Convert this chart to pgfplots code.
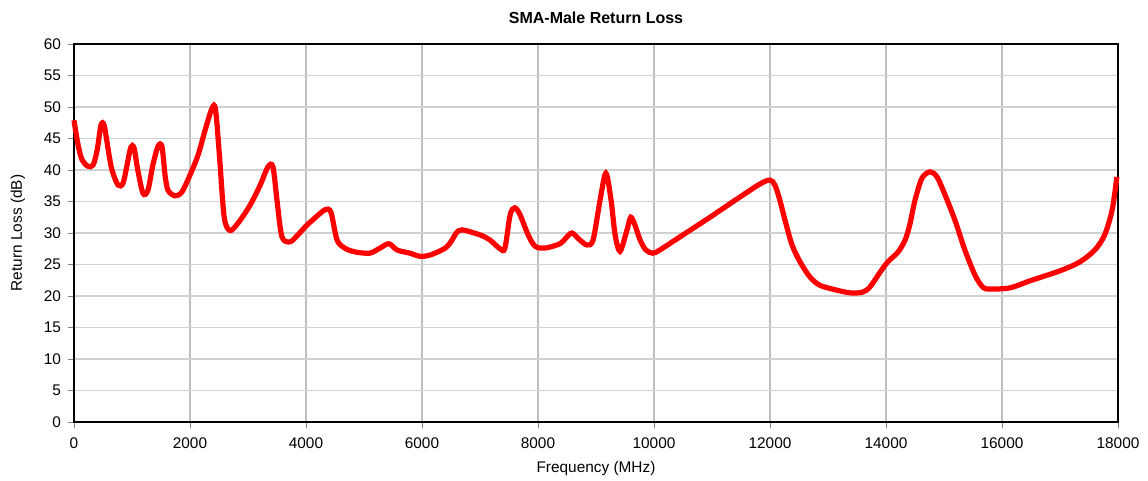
\documentclass[border=0pt]{standalone}
\usepackage{fontspec}
\setmainfont{Liberation Sans}
\usepackage{pgfplots}
\pgfplotsset{compat=1.18}
\begin{document}
\begin{tikzpicture}
\begin{axis}[
  scale only axis, width=522pt, height=189pt,
  xmin=0, xmax=18000, ymin=0, ymax=60,
  xtick={0,2000,...,18000}, ytick={0,5,...,60},
  /pgf/number format/assume math mode=true,
  /pgf/number format/1000 sep={},
  scaled x ticks=false,
  tick label style={font=\fontsize{7.7}{9}\selectfont},
  xticklabel style={yshift=-1.5pt},
  label style={font=\fontsize{7.7}{9}\selectfont},
  title style={font=\fontsize{8}{9}\selectfont\bfseries, yshift=0.5pt},
  title={SMA-Male Return Loss},
  xlabel={Frequency (MHz)}, ylabel={Return Loss (dB)},
  xlabel style={yshift=0.5pt}, ylabel style={yshift=2.5pt},
  tick align=outside, tick pos=left,
  major tick length=3pt,
  axis line style={line width=0.9pt},
  xmajorgrids, ymajorgrids,
  x grid style={color=black!25, line width=0.8pt},
  y grid style={color=black!18, line width=0.6pt},
  clip=false,
]
\addplot[red, line width=2.6pt, smooth, tension=0.5] coordinates {
(0,47.9)(70,44)(140,41.6)(240,40.6)(330,40.8)(400,43.2)(465,47.1)(520,47.1)(590,43.2)(655,40)(760,37.6)(845,37.9)(915,40.8)(980,43.6)(1035,43.5)(1100,40)(1190,36.3)(1275,36.8)(1360,40.8)(1450,43.8)(1517,43.7)(1570,39.2)(1620,36.8)(1740,35.9)(1860,36.5)(2000,39.2)(2140,42.4)(2260,46.3)(2380,49.8)(2440,49.6)(2510,42)(2590,32.5)(2690,30.4)(2830,31.6)(3035,34.4)(3210,37.6)(3345,40.5)(3430,40.5)(3500,35.2)(3585,29.4)(3725,28.6)(3860,29.7)(4000,31.1)(4155,32.4)(4330,33.7)(4430,33.3)(4535,28.9)(4670,27.6)(4845,27)(5100,26.8)(5275,27.6)(5430,28.3)(5570,27.3)(5790,26.8)(5965,26.3)(6140,26.5)(6400,27.6)(6520,28.9)(6590,30)(6690,30.5)(7000,29.7)(7170,28.9)(7345,27.5)(7430,27.6)(7520,32.9)(7600,34)(7690,32.9)(7830,29.7)(7950,27.9)(8120,27.6)(8380,28.3)(8480,29.2)(8585,30)(8720,28.9)(8845,28.1)(8950,28.9)(9070,35.2)(9170,39.5)(9260,35.2)(9330,29.7)(9415,27.1)(9535,30.5)(9600,32.5)(9670,31.3)(9760,28.9)(9860,27.3)(9980,26.8)(10100,27.3)(10450,29.4)(10965,32.5)(11480,35.7)(11830,37.8)(12000,38.4)(12085,37.6)(12170,35.2)(12260,32)(12380,28.1)(12520,25.4)(12690,23)(12860,21.7)(13120,21)(13380,20.5)(13590,20.6)(13720,21.4)(13900,23.8)(14030,25.4)(14210,27)(14330,28.9)(14410,31.3)(14500,35.2)(14620,38.7)(14760,39.7)(14880,38.9)(15020,36)(15190,32)(15360,27.3)(15535,23.3)(15670,21.4)(15790,21.1)(16140,21.3)(16480,22.4)(17000,24)(17340,25.4)(17600,27.3)(17770,29.7)(17900,33.7)(17980,38.9)
};
\end{axis}
\pgfresetboundingbox
\path (-37pt,-29.5pt) rectangle (537pt,211pt);
\end{tikzpicture}
\end{document}
